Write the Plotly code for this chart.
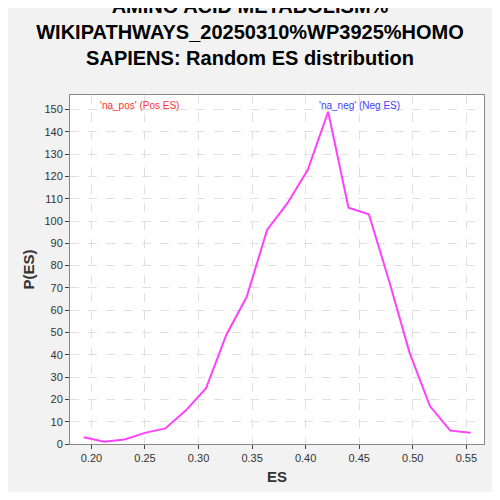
import plotly.graph_objects as go

es = [0.193, 0.212, 0.231, 0.250, 0.269, 0.288, 0.307, 0.326, 0.345, 0.364,
      0.383, 0.402, 0.421, 0.440, 0.459, 0.478, 0.497, 0.516, 0.535, 0.554]
p_es = [3, 1, 2, 5, 7, 15, 25, 49, 66, 96, 108, 123, 149, 106, 103, 73, 41, 17, 6, 5]

fig = go.Figure(go.Scatter(x=es, y=p_es, mode="lines",
                           line=dict(color="#ff40ff", width=2)))

fig.update_layout(
    autosize=True,
    paper_bgcolor="#f2f2f2", plot_bgcolor="white",
    margin=dict(l=62, r=8, t=87, b=48),
    showlegend=False,
    font=dict(family="Liberation Sans", color="#333"),
    title=dict(text="<b>AMINO ACID METABOLISM%<br>WIKIPATHWAYS_20250310%WP3925%HOMO<br>SAPIENS: Random ES distribution</b>",
               x=0.5, xanchor="center", y=0.99, yanchor="top",
               font=dict(size=20, color="black")),
    annotations=[
        dict(text="'na_pos' (Pos ES)", x=0.245, xref="x", y=152, yref="y",
             showarrow=False, font=dict(size=10, color="#ff3030")),
        dict(text="'na_neg' (Neg ES)", x=0.450, xref="x", y=152, yref="y",
             showarrow=False, font=dict(size=10, color="#4040ff")),
    ],
)
fig.update_xaxes(range=[0.18, 0.5665], dtick=0.05, tickformat=".2f",
                 title=dict(text="<b>ES</b>", font=dict(size=15), standoff=8),
                 showgrid=True, gridcolor="#e0e0e0", griddash="dash",
                 showline=True, linecolor="#888", mirror=True,
                 ticks="outside", ticklen=4, tickfont=dict(size=11))
fig.update_yaxes(range=[0, 156.5], dtick=10,
                 title=dict(text="<b>P(ES)</b>", font=dict(size=15), standoff=6),
                 showgrid=True, gridcolor="#e0e0e0", griddash="dash",
                 showline=True, linecolor="#888", mirror=True, zeroline=False,
                 ticks="outside", ticklen=4, tickfont=dict(size=11))

fig.write_html("out.html", default_width="100%", default_height="100%",
               full_html=True, include_plotlyjs=True)
